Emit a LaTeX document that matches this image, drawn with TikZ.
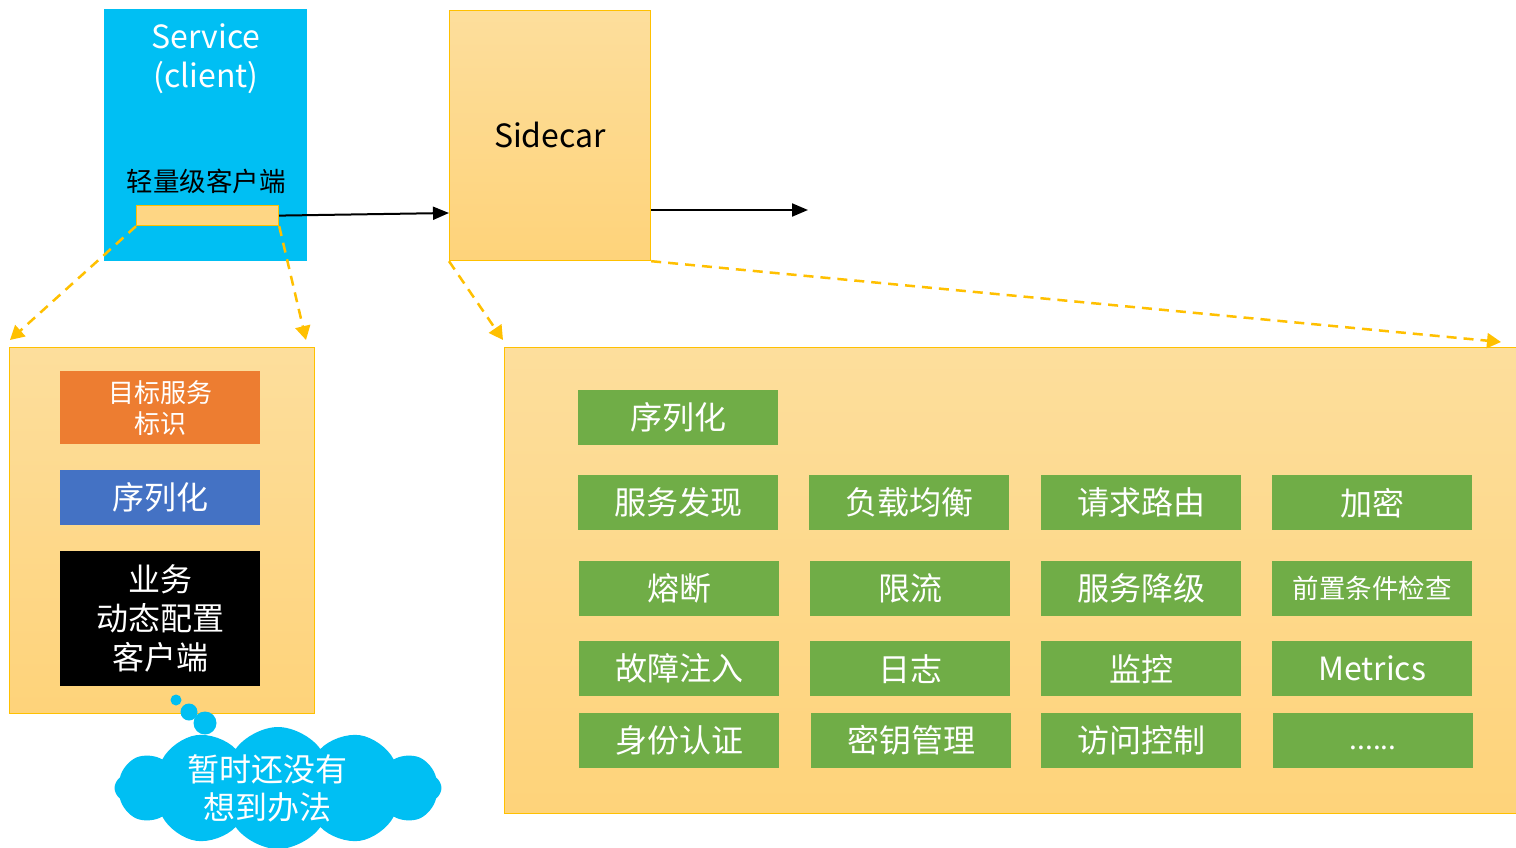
\documentclass[tikz,border=0pt]{standalone}
\usepackage{fontspec}
\setmainfont{Noto Sans CJK SC}
\usetikzlibrary{shapes.symbols,arrows.meta}
\definecolor{cyanb}{RGB}{0,191,243}
\definecolor{gold}{RGB}{255,192,0}
\definecolor{ltop}{RGB}{253,222,156}
\definecolor{lbot}{RGB}{254,211,122}
\definecolor{grn}{RGB}{112,173,71}
\definecolor{org}{RGB}{237,125,49}
\definecolor{blu}{RGB}{68,114,196}
\begin{document}
\begin{tikzpicture}[x=1pt,y=-1pt,
  ybox/.style={draw=gold, line width=1.2pt, top color=ltop, bottom color=lbot, anchor=north west, inner sep=0pt},
  gbox/.style={fill=grn, minimum width=200pt, minimum height=55pt, anchor=north west, inner sep=0pt, text=white, font=\fontsize{32}{36}\selectfont},
  lbox/.style={minimum width=200pt, anchor=north west, inner sep=0pt, text=white, align=center},
  yarrow/.style={draw=gold, line width=2.5pt, dash pattern=on 10pt off 7pt, -{Triangle[length=14pt,width=15pt]}},
  barrow/.style={draw=black, line width=2pt, -{Triangle[length=16pt,width=13pt]}},
  bub/.style={circle, fill=cyanb, inner sep=0pt}
]
\useasboundingbox (0,0) rectangle (1516,848);
\fill[white] (0,0) rectangle (1516,848);

% Service (client)
\node[fill=cyanb, minimum width=203pt, minimum height=252pt, anchor=north west, inner sep=0pt] (svc) at (104,9) {};
\node[text=white, align=center, font=\fontsize{32}{39}\selectfont] (svct) at (206,59) {Service\\(client)};
\node[font=\fontsize{26.5}{30}\selectfont] (lite) at (206,181) {轻量级客户端};
\node[draw=gold, line width=1.2pt, fill=lbot!70!ltop, minimum width=142pt, minimum height=20pt, anchor=north west, inner sep=0pt] (bar) at (136,205) {};

% Sidecar
\node[ybox, minimum width=201pt, minimum height=250pt] (side) at (449,10) {};
\node[font=\fontsize{32}{36}\selectfont] (sidet) at (550,135) {Sidecar};
\coordinate (out) at (808,210);

% left detail box
\node[ybox, minimum width=305pt, minimum height=366pt] (lbx) at (9,347) {};
\node[lbox, fill=org, minimum height=73pt, font=\fontsize{26}{31}\selectfont] (tgt) at (60,371) {目标服务\\标识};
\node[lbox, fill=blu, minimum height=55pt, font=\fontsize{32}{36}\selectfont] (ser) at (60,470) {序列化};
\node[lbox, fill=black, minimum height=135pt, font=\fontsize{32}{39}\selectfont] (dyn) at (60,551) {业务\\动态配置\\客户端};

% thought bubble
\node[bub, minimum size=11pt] (b1) at (176,700) {};
\node[bub, minimum size=17pt] (b2) at (189,712) {};
\node[bub, minimum size=23pt] (b3) at (205,723) {};
\node[cloud, cloud puffs=12, cloud puff arc=110, fill=cyanb, minimum width=327pt, minimum height=122pt, inner sep=0pt] (cl) at (278,788) {};
\node[text=white, align=center, font=\fontsize{32}{38}\selectfont] (clt) at (267,788) {暂时还没有\\想到办法};

% right detail box
\node[ybox, minimum width=1020pt, minimum height=466pt] (rbx) at (504,347) {};

\node[gbox] (g0) at (578,390) {序列化};
\node[gbox] (g11) at (578,475) {服务发现};
\node[gbox] (g12) at (809,475) {负载均衡};
\node[gbox] (g13) at (1041,475) {请求路由};
\node[gbox] (g14) at (1272,475) {加密};
\node[gbox] (g21) at (579,561) {熔断};
\node[gbox] (g22) at (810,561) {限流};
\node[gbox] (g23) at (1041,561) {服务降级};
\node[gbox, font=\fontsize{26.5}{30}\selectfont] (g24) at (1272,561) {前置条件检查};
\node[gbox] (g31) at (579,641) {故障注入};
\node[gbox] (g32) at (810,641) {日志};
\node[gbox] (g33) at (1041,641) {监控};
\node[gbox] (g34) at (1272,641) {Metrics};
\node[gbox] (g41) at (579,713) {身份认证};
\node[gbox] (g42) at (811,713) {密钥管理};
\node[gbox] (g43) at (1041,713) {访问控制};
\node[gbox] (g44) at (1273,713) {};
\node[text=white, font=\fontsize{28}{32}\selectfont, inner sep=0pt] (g44t) at (1373,748) {......};

% connectors
\draw[barrow] (bar.east) -- (side.west |- 0,213);
\draw[barrow] (side.east |- out) -- (out);

\coordinate (t1) at (10,340);
\coordinate (t2) at (306,340);
\coordinate (t3) at (503,340);
\coordinate (t4) at (1501,342);
\draw[yarrow] (bar.south west) -- (t1);
\draw[yarrow] (bar.south east) -- (t2);
\draw[yarrow] (side.south west) -- (t3);
\draw[yarrow] (side.south east) -- (t4);
\end{tikzpicture}
\end{document}
